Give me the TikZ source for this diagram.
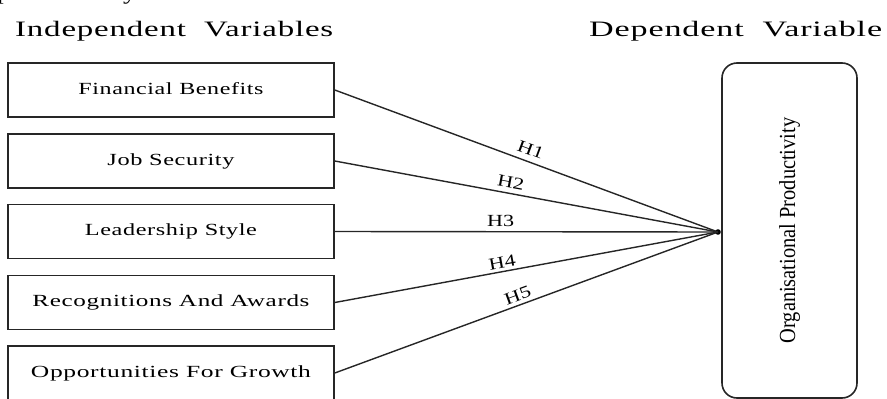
\documentclass[tikz,border=0pt]{standalone}
\usepackage{fontspec}
\usepackage{graphicx}
\setmainfont{Liberation Serif}
\newfontfamily\lsfont[LetterSpace=2.5]{Liberation Serif}
\newcommand\fitw[2]{\resizebox{#1}{\height}{\lsfont #2}}
\newcommand\hx[1]{\scalebox{1.3}[1]{#1}}
\begin{document}
\begin{tikzpicture}[x=1pt,y=-1pt,
  ivbox/.style={draw=black!85, line width=1.6pt, minimum width=326pt, minimum height=54pt,
    inner sep=0pt, text height=12pt, text depth=3.5pt, font=\fontsize{17pt}{20pt}\selectfont},
  dvbox/.style={draw=black!85, line width=1.6pt, rounded corners=15pt, minimum width=135pt,
    minimum height=335pt, inner sep=0pt, font=\fontsize{20pt}{24pt}\selectfont},
  head/.style={inner sep=0pt, anchor=base west, font=\fontsize{22pt}{26pt}\selectfont},
  link/.style={draw=black!85, line width=1.4pt},
  hyp/.style={font=\fontsize{17pt}{20pt}\selectfont, sloped, inner sep=0pt}
]
\clip (0,0) rectangle (887,399);
\useasboundingbox (0,0) rectangle (887,399);

% cut-off caption line at top
\node[head] (cap) at (-3,-1) {\fitw{145pt}{productivity.}};

% headers
\node[head] (hiv) at (15,36) {\fitw{318pt}{Independent\ \ Variables}};
\node[head] (hdv) at (589,36) {\fitw{293pt}{Dependent\ \ Variable}};

% independent variable boxes
\node[ivbox] (b1) at (171,90)    {\fitw{185pt}{Financial Benefits}};
\node[ivbox] (b2) at (171,161)   {\fitw{127pt}{Job Security}};
\node[ivbox] (b3) at (171,231.5) {\fitw{172pt}{Leadership Style}};
\node[ivbox] (b4) at (171,302.5) {\fitw{277pt}{Recognitions And Awards}};
\node[ivbox] (b5) at (171,373)   {\fitw{280pt}{Opportunities For Growth}};

% dependent variable box
\node[dvbox] (dv) at (789.5,230.5)
  {\rotatebox{90}{\scalebox{1.02}[1.15]{Organisational Productivity}}};

% convergence point
\coordinate (conv) at (718,232);
\fill[black] (conv) circle (2.8pt);

% hypotheses links
\draw[link] (b1.east) -- node[hyp, pos=0.5, above=6pt] {\hx{H1}} (conv);
\draw[link] (b2.east) -- node[hyp, pos=0.454, above=5pt] {\hx{H2}} (conv);
\draw[link] (b3.east) -- node[hyp, pos=0.433, above=4pt] {\hx{H3}} (conv);
\draw[link] (b4.east) -- node[hyp, pos=0.441, above=3pt] {\hx{H4}} (conv);
\draw[link] (b5.east) -- node[hyp, pos=0.486, above=3.5pt] {\hx{H5}} (conv);
\end{tikzpicture}
\end{document}
